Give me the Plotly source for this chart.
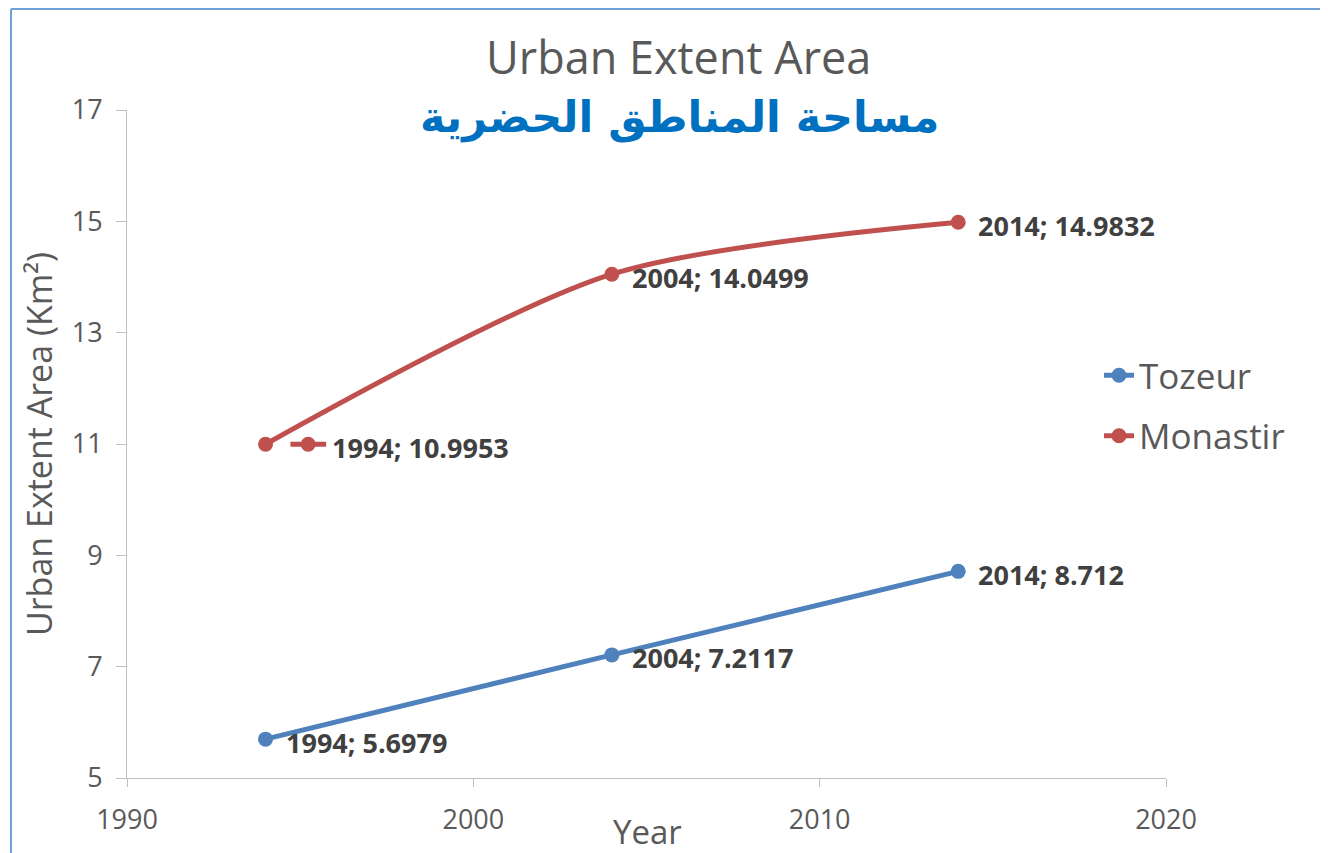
import plotly.graph_objects as go

years = [1994, 2004, 2014]
tozeur = [5.6979, 7.2117, 8.712]
monastir = [10.9953, 14.0499, 14.9832]
series_names = ["Tozeur", "Monastir"]
colors = ["#4F81BD", "#C0504D"]
title_en = "Urban Extent Area"
title_ar = "مساحة المناطق الحضرية"
x_title = "Year"
y_title = "Urban Extent Area (Km²)"
x_ticks = [1990, 2000, 2010, 2020]
y_ticks = [5, 7, 9, 11, 13, 15, 17]

OFF = 8  # page body margin
W, H = 1328 - OFF, 853 - OFF
ML, MT = 127 - OFF, 110 - OFF
PW, PH = 1166 - 127, 778 - 110
MR, MB = W - ML - PW, H - MT - PH


def px(sx):
    return (sx - OFF - ML) / PW


def py(sy):
    return (MT + PH - (sy - OFF)) / PH


fig = go.Figure()
for i, (name, vals) in enumerate(zip(series_names, [tozeur, monastir])):
    fig.add_trace(go.Scatter(
        x=years, y=vals, name=name, mode="lines+markers",
        line=dict(color=colors[i], width=5, shape="spline", smoothing=0.8),
        marker=dict(color=colors[i], size=15, opacity=1),
        legendgroup=name, cliponaxis=False,
    ))

# legend key glyph shown next to the first Monastir data label
kx = years[0]
fig.add_trace(go.Scatter(
    x=[kx + 0.72, kx + 1.75], y=[monastir[0]] * 2,
    mode="lines", showlegend=False, hoverinfo="skip",
    line=dict(color=colors[1], width=5),
))
fig.add_trace(go.Scatter(
    x=[kx + 1.23], y=[monastir[0]],
    mode="markers", showlegend=False, hoverinfo="skip",
    marker=dict(color=colors[1], size=15, opacity=1),
))

label_font = dict(family="Open Sans", size=27, color="#404040")
annotations = []
for vals in [tozeur, monastir]:
    for j, (x, y) in enumerate(zip(years, vals)):
        shift = 18
        if vals is monastir and j == 0:
            shift = 64
        annotations.append(dict(
            x=x, y=y, xref="x", yref="y", text=f"<b>{x}; {y:g}</b>",
            showarrow=False, xanchor="left", yanchor="middle",
            xshift=shift, yshift=-3, font=label_font,
        ))

annotations.append(dict(
    x=px(678), y=py(57), xref="paper", yref="paper", text=title_en,
    showarrow=False, xanchor="center", yanchor="middle",
    font=dict(family="Open Sans", size=45, color="#595959"),
))
annotations.append(dict(
    x=px(679), y=py(118), xref="paper", yref="paper", text=f"<b>{title_ar}</b>",
    showarrow=False, xanchor="center", yanchor="middle",
    font=dict(family="DejaVu Sans", size=43, color="#0070C0"),
))
annotations.append(dict(
    x=px(647), y=py(831), xref="paper", yref="paper", text=x_title,
    showarrow=False, xanchor="center", yanchor="middle",
    font=dict(family="Open Sans", size=33, color="#595959"),
))

fig.update_layout(
    width=W, height=H,
    margin=dict(l=ML, r=MR, t=MT, b=MB, autoexpand=False),
    paper_bgcolor="white", plot_bgcolor="white",
    showlegend=True,
    legend=dict(
        x=px(1099), y=py(346), xanchor="left", yanchor="top",
        font=dict(family="Open Sans", size=35, color="#595959"),
        traceorder="grouped", tracegroupgap=12, bgcolor="rgba(0,0,0,0)",
    ),
    annotations=annotations,
    shapes=[
        dict(type="line", xref="paper", yref="paper",
             x0=px(11), x1=px(11), y0=py(860), y1=py(9),
             line=dict(color="#6FA0DC", width=2)),
        dict(type="line", xref="paper", yref="paper",
             x0=px(11), x1=px(1335), y0=py(9), y1=py(9),
             line=dict(color="#6FA0DC", width=2)),
    ],
)
fig.update_xaxes(
    range=[1990, 2020], tickvals=x_ticks, showgrid=False, zeroline=False,
    showline=True, linecolor="#BFBFBF", linewidth=1,
    ticks="outside", ticklen=8, tickcolor="#BFBFBF", ticklabelstandoff=10,
    tickfont=dict(family="Open Sans", size=27, color="#595959"),
)
fig.update_yaxes(
    range=[5, 17], tickvals=y_ticks, showgrid=False, zeroline=False,
    showline=True, linecolor="#BFBFBF", linewidth=1,
    ticks="outside", ticklen=10, tickcolor="#BFBFBF", ticklabelstandoff=8,
    tickfont=dict(family="Open Sans", size=27, color="#595959"),
    title=dict(text=y_title, font=dict(family="Open Sans", size=34, color="#595959"), standoff=8),
)

fig.write_html("out.html")
